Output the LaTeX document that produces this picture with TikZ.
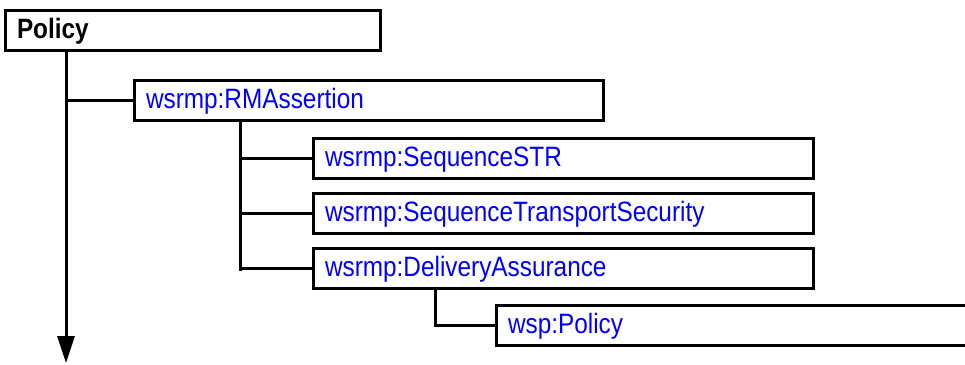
\documentclass[tikz,border=0pt]{standalone}
\usepackage{fontspec}
\setmainfont[FakeStretch=0.87]{Liberation Sans}
\usepackage{tikz}
\usetikzlibrary{positioning, arrows.meta}

\newcommand{\boxfont}{\fontsize{28}{32}\selectfont}

\begin{document}
\begin{tikzpicture}[x=1pt, y=-1pt, line width=3pt, font=\boxfont,
    box/.style={draw, rectangle, outer sep=0pt, inner xsep=12pt, minimum height=40pt,
                text width=#1, text height=17pt, text depth=1pt, align=left,
                text=blue, anchor=north west}]
    \clip (0,0) rectangle (965,364);
    \node[box=351, text=black, font=\boxfont\bfseries] (policy) at (5,10) {Policy};
    \node[box=445, below right=30pt and 129pt of policy.south west] (rma) {wsrmp:RMAssertion};
    \node[box=476, below right=18pt and 179pt of rma.south west] (str) {wsrmp:SequenceSTR};
    \node[box=476, below right=15pt and 0pt of str.south west] (ts) {wsrmp:SequenceTransportSecurity};
    \node[box=476, below right=15pt and 0pt of ts.south west] (da) {wsrmp:DeliveryAssurance};
    \node[box=500, below right=17pt and 183pt of da.south west] (wsp) {wsp:Policy};
    % trunk of Policy
    \coordinate (ptop) at ([xshift=61pt]policy.south west);
    \coordinate (pend) at ([yshift=-313pt]ptop);
    \draw[-{Triangle[length=27pt, width=17pt]}] (ptop) -- (pend);
    \draw (ptop |- rma.west) -- (rma.west);
    % children of RMAssertion
    \coordinate (rtop) at ([xshift=106pt]rma.south west);
    \draw (rtop) -- ([yshift=-3pt]rtop |- da.west);
    \foreach \n in {str, ts, da}
        \draw (rtop |- \n.west) -- (\n.west);
    % DeliveryAssurance -> wsp:Policy
    \draw ([xshift=122pt]da.south west) |- (wsp.west);
\end{tikzpicture}
\end{document}
